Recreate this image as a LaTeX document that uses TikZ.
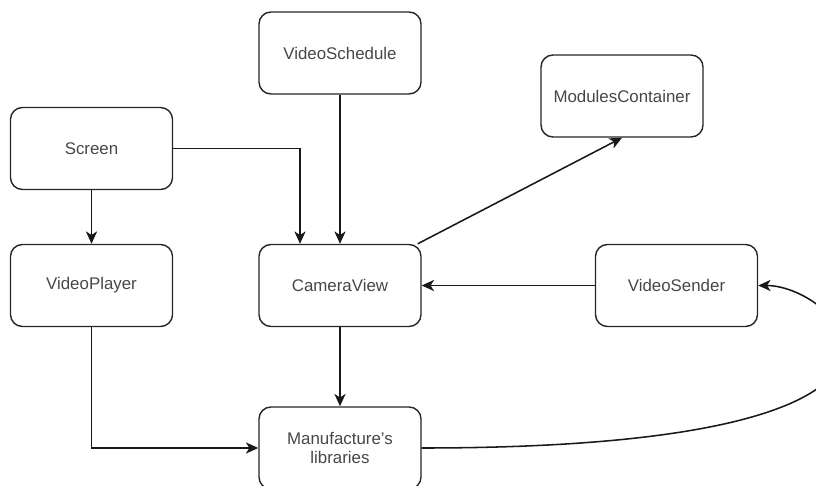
\documentclass[tikz,border=0pt]{standalone}
\usepackage{fontspec}
\setmainfont{Liberation Sans}
\usetikzlibrary{arrows.meta,positioning,calc}

\begin{document}
\begin{tikzpicture}[x=0.025cm, y=-0.025cm,
    module/.style={draw=black!85, line width=1pt, rounded corners=0.3cm,
        minimum width=4.05cm, minimum height=2.05cm, align=center,
        text=black!72, font=\fontsize{12}{14}\selectfont, inner sep=2pt},
    link/.style={draw=black!90, line width=1.1pt,
        -{Stealth[length=0.31cm,width=0.28cm,inset=0.09cm]}}]
    \useasboundingbox (0,0) rectangle (816,486);
    \clip (0,0) rectangle (816,486);

    % modules
    \node[module] (sched) at (340,53) {VideoSchedule};
    \node[module] (mods) at (622,96) {ModulesContainer};
    \node[module] (screen) at (91.5,148.5) {Screen};
    \node[module] (player) at (91.5,285.5) {VideoPlayer};
    \node[module] (camera) at (340,285.5) {CameraView};
    \node[module] (sender) at (676.5,285.5) {VideoSender};
    \node[module] (libs) at (340,448) {Manufacture's\\libraries};

    % links
    \draw[link] (screen) -- (player);
    \draw[link] (screen.east) -| ($(camera.north)+(-40,0)$);
    \draw[link] (sched) -- (camera);
    \draw[link] ($(camera.north east)+(-4,0)$) -- (mods.south);
    \draw[link] (sender) -- (camera);
    \draw[link] (camera) -- (libs);
    \draw[link] (player.south) |- (libs.west);
    \draw[link] (libs.east) .. controls +(579,0) and +(81,0) .. (sender.east);
\end{tikzpicture}
\end{document}
